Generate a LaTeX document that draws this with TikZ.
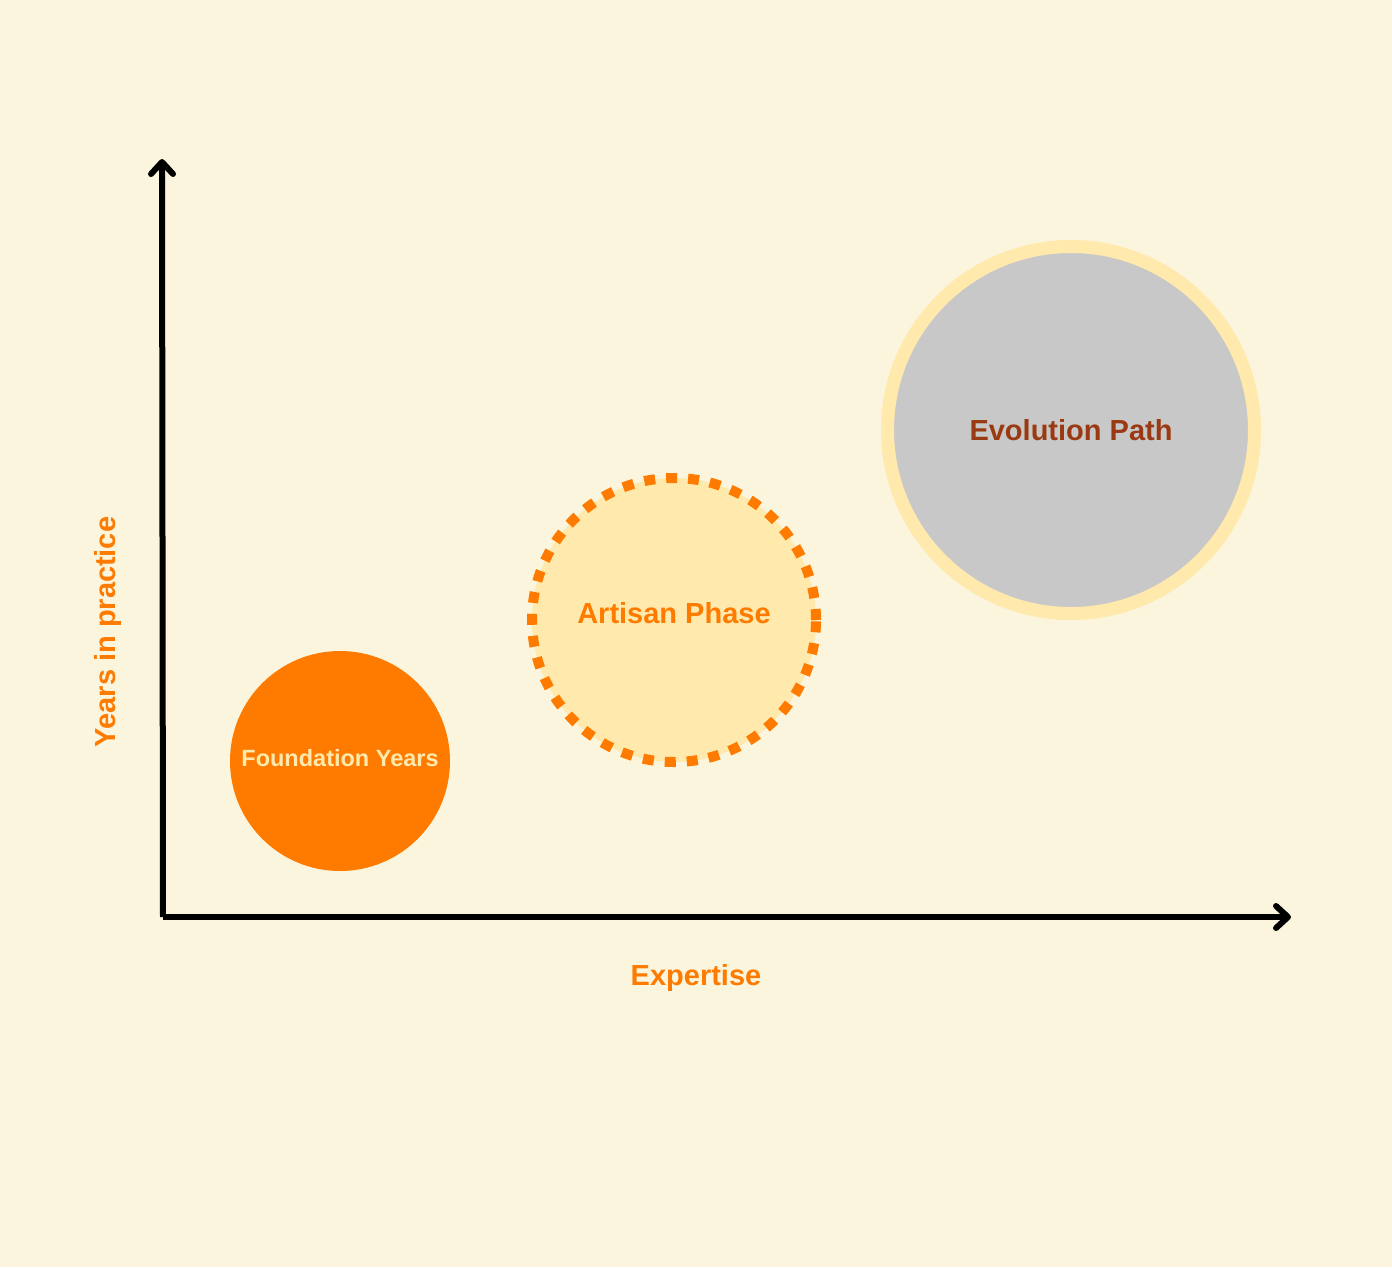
\documentclass[tikz,border=0pt]{standalone}
\usepackage{fontspec}
\setmainfont{Liberation Sans}
\usetikzlibrary{arrows.meta, positioning}
\definecolor{stageCream}{RGB}{251,245,222}
\definecolor{stageOrange}{RGB}{255,123,0}
\definecolor{stageButter}{RGB}{255,233,172}
\definecolor{stageGrey}{RGB}{200,200,200}
\definecolor{stageRust}{RGB}{154,58,18}

\begin{document}
\begin{tikzpicture}[x=1pt, y=-1pt,
    phase/.style={circle, inner sep=0pt, align=center, font=\fontsize{29}{34}\selectfont\bfseries},
    axis/.style={line width=6pt, draw=black,
      -{Straight Barb[length=12pt, width=22pt, line join=round, line cap=round]}},
    axislabel/.style={text=stageOrange, font=\fontsize{29}{34}\selectfont\bfseries}
  ]
  % background and page size
  \fill[stageCream] (0,0) rectangle (1392,1267);
  \useasboundingbox (0,0) rectangle (1392,1267);

  % axes
  \coordinate (origin) at (163,917);
  \coordinate (xtip) at (1291,917);
  \coordinate (ytip) at (162,159);
  \draw[axis] (origin) -- (xtip);
  \draw[axis] (origin) -- (ytip);
  \node[axislabel] (xlabel) at (696,978) {Expertise};
  \node[axislabel, rotate=90] (ylabel) at (108,632) {Years in practice};

  % phases
  \node[phase, fill=stageOrange, text=stageButter, minimum size=220pt, text depth=7pt,
    font=\fontsize{23.5}{28}\selectfont\bfseries] (foundation) at (340,761) {Foundation Years};
  \node[phase, fill=stageButter, draw=stageOrange, line width=10pt, text depth=14pt,
    dash pattern=on 11pt off 11pt, text=stageOrange, minimum size=284pt] (artisan) at (674,620) {Artisan Phase};
  \node[phase, fill=stageGrey, draw=stageButter, line width=13pt,
    text=stageRust, minimum size=367pt] (evolution) at (1071,430) {Evolution Path};
\end{tikzpicture}
\end{document}
